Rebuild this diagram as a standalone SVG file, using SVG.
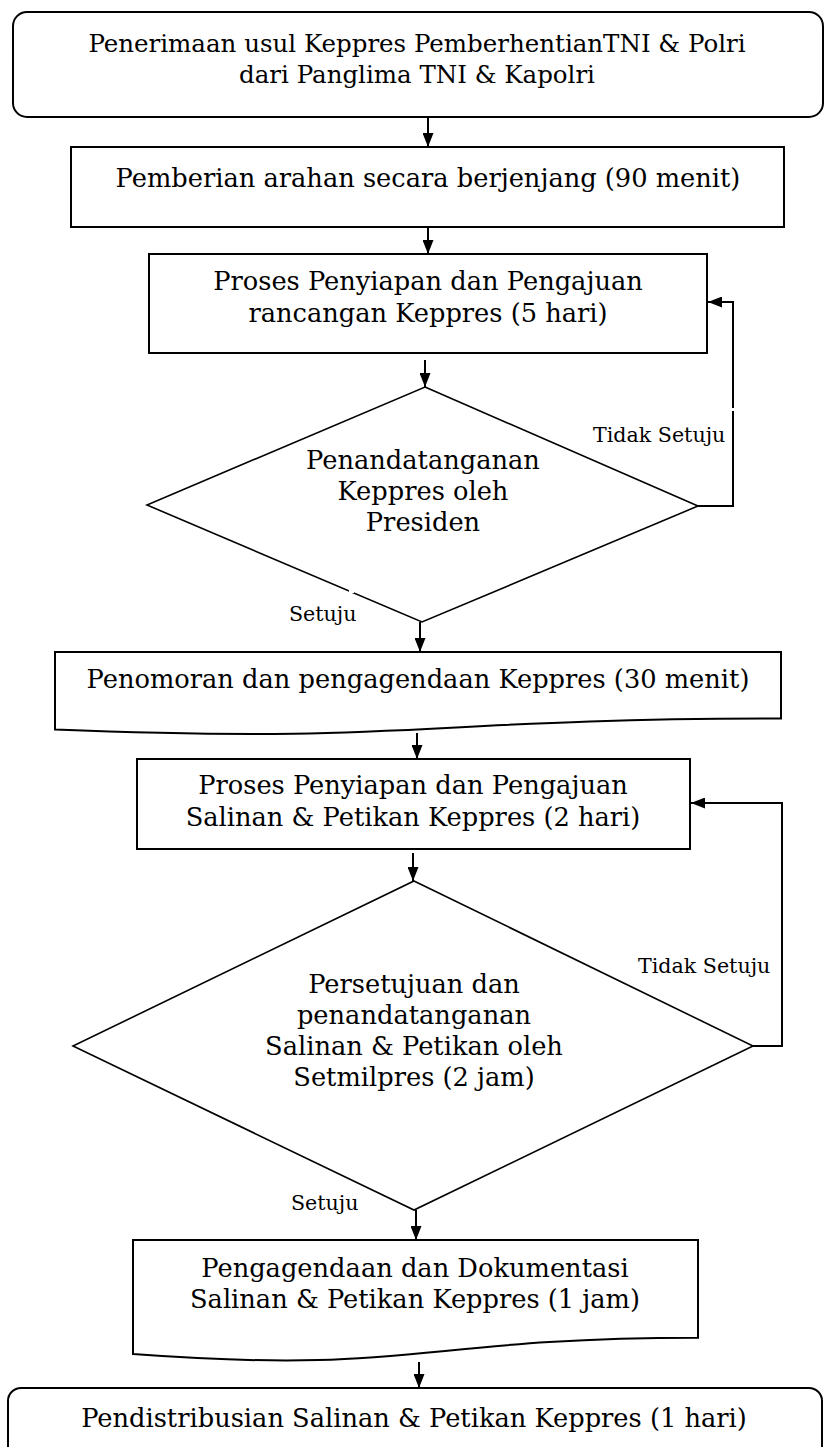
<svg xmlns="http://www.w3.org/2000/svg" width="825" height="1447" viewBox="0 0 825 1447">
<style>
  .box { fill: #fff; stroke: #000; stroke-width: 2; }
  .dia { fill: #fff; stroke: #000; stroke-width: 1.6; }
  .t { font-family: "DejaVu Serif", "Liberation Serif", serif; font-size: 25.7px; fill: #000; text-anchor: middle; }
  .top { font-size: 24.5px; }
  .lbl { font-family: "DejaVu Serif", "Liberation Serif", serif; font-size: 20.6px; fill: #000; }
  .c { fill: none; stroke: #000; stroke-width: 2; }
</style>
<defs>
  <marker id="ah" viewBox="0 0 14 11" refX="14" refY="5.5" markerWidth="14" markerHeight="11" markerUnits="userSpaceOnUse" orient="auto">
    <path d="M0,0 L14,5.5 L0,11 z" fill="#000"/>
  </marker>
</defs>
<rect width="825" height="1447" fill="#fff"/>

<g id="n1">
  <rect class="box" x="13" y="12" width="810" height="105" rx="14"/>
  <text class="t top" x="417" y="52">Penerimaan usul Keppres PemberhentianTNI &amp; Polri</text>
  <text class="t top" x="417" y="83">dari Panglima TNI &amp; Kapolri</text>
</g>
<g id="n2">
  <rect class="box" x="71" y="147" width="713" height="80"/>
  <text class="t" x="428" y="187">Pemberian arahan secara berjenjang (90 menit)</text>
</g>
<g id="n3">
  <rect class="box" x="149" y="254" width="558" height="99"/>
  <text class="t" x="428" y="290">Proses Penyiapan dan Pengajuan</text>
  <text class="t" x="428" y="322">rancangan Keppres (5 hari)</text>
</g>
<g id="d1">
  <polygon class="dia" points="425,387 698,506 422,622 147,505"/>
  <rect x="349" y="587" width="5" height="6" fill="#fff"/>
  <text class="t" x="423" y="469">Penandatanganan</text>
  <text class="t" x="423" y="500">Keppres oleh</text>
  <text class="t" x="423" y="531">Presiden</text>
</g>
<g id="n4">
  <path class="box" d="M55,652 H781 V718.6 C418,718.6 418,743.9 55,729.5 Z"/>
  <text class="t" x="418" y="688">Penomoran dan pengagendaan Keppres (30 menit)</text>
</g>
<g id="n5">
  <rect class="box" x="137" y="759" width="553" height="90"/>
  <text class="t" x="413" y="794">Proses Penyiapan dan Pengajuan</text>
  <text class="t" x="413" y="826">Salinan &amp; Petikan Keppres (2 hari)</text>
</g>
<g id="d2">
  <polygon class="dia" points="414,881 753,1046 414,1210 73,1046"/>
  <text class="t" x="414" y="993">Persetujuan dan</text>
  <text class="t" x="414" y="1024">penandatanganan</text>
  <text class="t" x="414" y="1055">Salinan &amp; Petikan oleh</text>
  <text class="t" x="414" y="1086">Setmilpres (2 jam)</text>
</g>
<g id="n6">
  <path class="box" d="M133,1240 H698 V1337.8 C415.5,1337.8 415.5,1375.1 133,1354 Z"/>
  <text class="t" x="415" y="1277">Pengagendaan dan Dokumentasi</text>
  <text class="t" x="415" y="1308">Salinan &amp; Petikan Keppres (1 jam)</text>
</g>
<g id="n7">
  <rect class="box" x="8" y="1388" width="814" height="80" rx="13"/>
  <text class="t" x="414" y="1427">Pendistribusian Salinan &amp; Petikan Keppres (1 hari)</text>
</g>

<g id="connectors">
  <path class="c" d="M428,117 V147" marker-end="url(#ah)"/>
  <path class="c" d="M428,227 V254" marker-end="url(#ah)"/>
  <path class="c" d="M425,360 V387" marker-end="url(#ah)"/>
  <path class="c" d="M420,622 V652" marker-end="url(#ah)"/>
  <path class="c" d="M417,733 V759" marker-end="url(#ah)"/>
  <path class="c" d="M413,853 V881" marker-end="url(#ah)"/>
  <path class="c" d="M416,1210 V1240" marker-end="url(#ah)"/>
  <path class="c" d="M419,1362 V1388" marker-end="url(#ah)"/>
  <path class="c" d="M698,506 H733 V411"/>
  <path class="c" d="M733,408 V302 H708" marker-end="url(#ah)"/>
  <path class="c" d="M753,1046 H782 V803 H691" marker-end="url(#ah)"/>
  <text class="lbl" x="593" y="442">Tidak Setuju</text>
  <text class="lbl" x="289" y="621">Setuju</text>
  <text class="lbl" x="638" y="973">Tidak Setuju</text>
  <text class="lbl" x="291" y="1210">Setuju</text>
</g>
</svg>
